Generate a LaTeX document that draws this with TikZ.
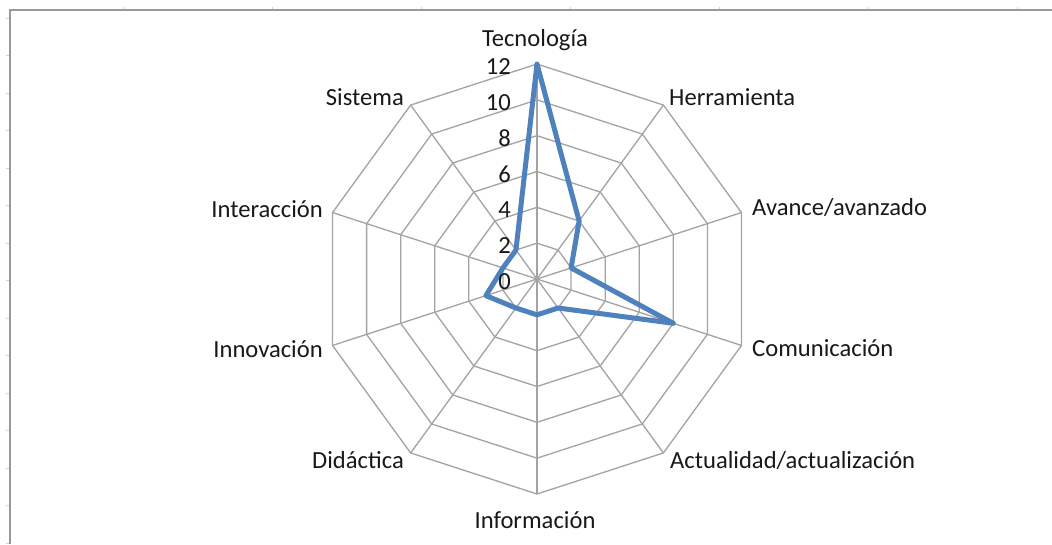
\documentclass[tikz,border=0pt]{standalone}
\usepackage{fontspec}
\setmainfont{Carlito}
\begin{document}
\begin{tikzpicture}[x=1pt,y=-1pt,
  gridline/.style={draw=black!36, line width=1.3pt},
  frameline/.style={draw=black!40, line width=2pt},
  tickline/.style={draw=black!18, line width=0.8pt},
  dataline/.style={draw=seriesblue, line width=5pt, line join=round, line cap=round},
  lbl/.style={inner sep=0pt, font=\fontsize{24.6}{28}\selectfont, text=black!90},
  num/.style={inner sep=0pt, anchor=east, font=\fontsize{24.6}{28}\selectfont, text=black!90}]
\definecolor{seriesblue}{HTML}{4F81BD}
\useasboundingbox (0,0) rectangle (1052,544);
\fill[white] (0,0) rectangle (1052,544);
% sheet frame
\draw[frameline] (9.5,544) -- (9.5,10) -- (1052,10);
\foreach \y in {18,55.5,93,130.5,168,205.5,243,280.5,318,355.5,393,430.5,468,505.5,543}
  \draw[tickline] (6,\y) -- (8.5,\y);
\foreach \x in {123,272,421,570,719,868,1017}
  \draw[tickline] (\x,6.5) -- (\x,9);
% center and vertices
\coordinate (O) at (537,279);
\foreach \i in {0,...,9}
  \coordinate (V\i) at ({537+215*sin(36*\i)},{279-215*cos(36*\i)});
% rings
\foreach \k in {1,...,6}{
  \pgfmathsetmacro{\r}{\k*215/6}
  \draw[gridline] ({537},{279-\r}) \foreach \i in {1,...,9}{ -- ({537+\r*sin(36*\i)},{279-\r*cos(36*\i)}) } -- cycle;
}
% spokes
\foreach \i in {0,...,9}
  \draw[gridline] (O) -- (V\i);
% data
\foreach \i/\v in {0/12,1/4,2/2,3/8,4/2,5/2,6/2,7/3,8/2,9/2}
  \coordinate (D\i) at ({537+\v*215/12*sin(36*\i)},{279-\v*215/12*cos(36*\i)});
\draw[dataline] (D0) -- (D1) -- (D2) -- (D3) -- (D4) -- (D5) -- (D6) -- (D7) -- (D8) -- (D9) -- cycle;
% value labels
\foreach \v in {0,2,...,12}
  \node[num] (n\v) at (511,{279-\v*215/12+2.5}) {\v};
% category labels
\node[lbl, anchor=base] (tec) at (535,46) {Tecnología};
\node[lbl, anchor=base west] (her) at (669,105) {Herramienta};
\node[lbl, anchor=base west] (ava) at (752,215) {Avance/avanzado};
\node[lbl, anchor=base west] (com) at (752,356) {Comunicación};
\node[lbl, anchor=base west] (act) at (670,468) {Actualidad/actualización};
\node[lbl, anchor=base] (inf) at (535,528) {Información};
\node[lbl, anchor=base east] (did) at (404,468) {Didáctica};
\node[lbl, anchor=base east] (inn) at (323,357) {Innovación};
\node[lbl, anchor=base east] (int) at (323,217) {Interacción};
\node[lbl, anchor=base east] (sis) at (404,105) {Sistema};
\end{tikzpicture}
\end{document}
